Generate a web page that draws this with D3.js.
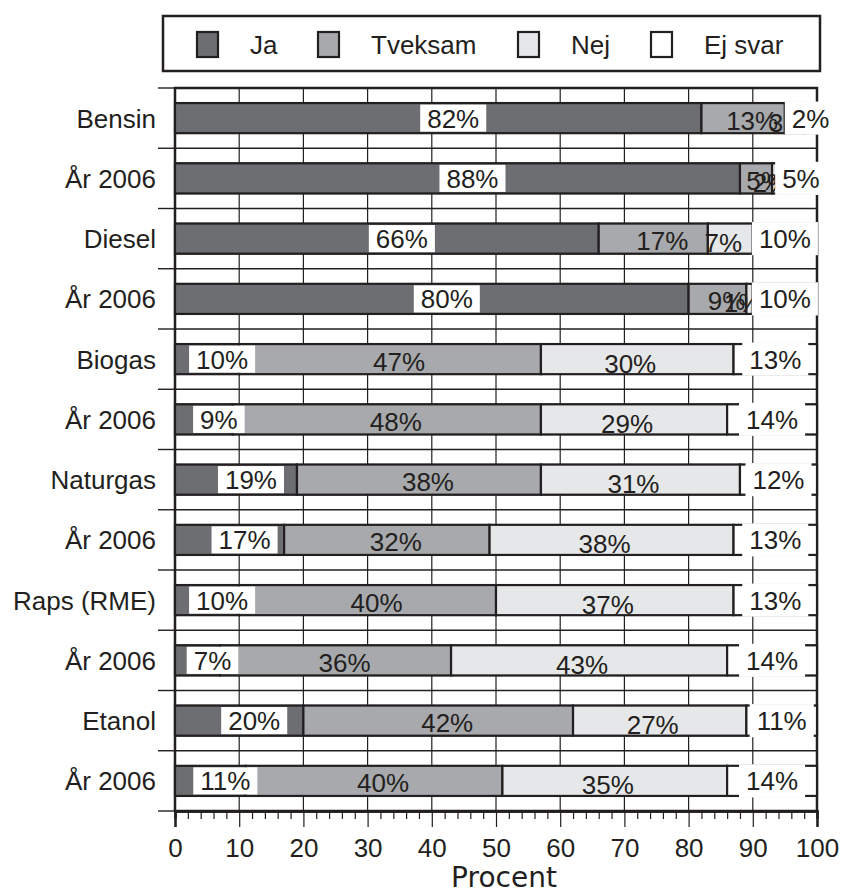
<!DOCTYPE html>
<html><head><meta charset="utf-8">
<script src="https://cdn.jsdelivr.net/npm/d3@7"></script>
<style>body{margin:0;background:#fff}</style>
</head><body><svg id="c" width="841" height="894"></svg>
<script>
const categories = ["Bensin","År 2006","Diesel","År 2006","Biogas","År 2006","Naturgas","År 2006","Raps (RME)","År 2006","Etanol","År 2006"];
const ja      = [82,88,66,80,10, 9,19,17,10, 7,20,11];
const tveksam = [13, 5,17, 9,47,48,38,32,40,36,42,40];
const nej     = [ 3, 2, 7, 1,30,29,31,38,37,43,27,35];
const ejSvar  = [ 2, 5,10,10,13,14,12,13,13,14,11,14];
const seriesNames = ["Ja","Tveksam","Nej","Ej svar"];
const xTicks = [0,10,20,30,40,50,60,70,80,90,100];
const axisTitle = "Procent";

const colors = ["#6d6e71","#a7a9ac","#e6e7e8","#ffffff"];
const ink = "#231f20";
const FONT = "'Liberation Sans', Arial, Helvetica, sans-serif";
const FS = 26;

const svg = d3.select("#c");
svg.append("rect").attr("width",841).attr("height",894).attr("fill","#fff");

const x = d3.scaleLinear().domain([0,100]).range([175,817]);
const y = d3.scaleBand().domain(d3.range(categories.length)).range([88,811]).paddingInner(0.5).paddingOuter(0.25);
const bw = y.bandwidth(), step = y.step();

const keys = ["ja","tveksam","nej","ejSvar"];
const rows = categories.map((c,i)=>({i, ja:ja[i], tveksam:tveksam[i], nej:nej[i], ejSvar:ejSvar[i]}));
const stacked = d3.stack().keys(keys)(rows);

// grid
const g = svg.append("g");
g.selectAll(".vg").data(xTicks.slice(1,-1)).join("line")
  .attr("x1",d=>x(d)).attr("x2",d=>x(d)).attr("y1",88).attr("y2",811)
  .attr("stroke",ink).attr("stroke-width",1.2);
const bounds = d3.range(categories.length+1).map(i=> i<categories.length ? y(i)-(step-bw)/2 : 811);
const hLines = [];
bounds.forEach(b=>hLines.push(b));
d3.range(categories.length).forEach(i=>{hLines.push(y(i)); hLines.push(y(i)+bw);});
g.selectAll(".hg").data(hLines).join("line")
  .attr("x1",175).attr("x2",817).attr("y1",d=>d).attr("y2",d=>d)
  .attr("stroke",ink).attr("stroke-width",1.4);

// frame
svg.append("rect").attr("x",175).attr("y",88).attr("width",642).attr("height",723)
  .attr("fill","none").attr("stroke",ink).attr("stroke-width",2.5);

// bars
stacked.forEach((s,k)=>{
  svg.append("g").selectAll("rect").data(s).join("rect")
    .attr("x",d=>x(d[0])).attr("width",d=>x(d[1])-x(d[0]))
    .attr("y",d=>y(d.data.i)).attr("height",bw)
    .attr("fill",colors[k]).attr("stroke",ink).attr("stroke-width",2.2);
});

// labels
const dxs = [15,9,-7,0], dys=[0,2,4,0];
stacked.forEach((s,k)=>{
  s.forEach(d=>{
    const v = d.data[keys[k]];
    const cx = x((d[0]+d[1])/2)+dxs[k];
    const cy = y(d.data.i)+bw/2;
    const grp = svg.append("g");
    const t = grp.append("text").attr("x",cx).attr("y",cy+9.5+dys[k])
      .attr("text-anchor","middle").attr("font-family",FONT).attr("font-size",FS)
      .attr("fill",ink).text(v+"%");
    const w = t.node().getComputedTextLength();
    if(k===0){
      grp.insert("rect","text").attr("x",cx-w/2-7).attr("width",w+14)
        .attr("y",y(d.data.i)+1.5).attr("height",bw-3).attr("fill","#fff");
    } else if(k===3){
      grp.insert("rect","text").attr("x",cx-w/2-7).attr("width",w+14)
        .attr("y",y(d.data.i)-1.5).attr("height",bw+3).attr("fill","#fff");
    }
  });
});

// left category labels and ticks
svg.selectAll(".lt").data(bounds).join("line")
  .attr("x1",158).attr("x2",175).attr("y1",d=>d).attr("y2",d=>d)
  .attr("stroke",ink).attr("stroke-width",1.4);
svg.append("g").selectAll("text").data(categories).join("text")
  .attr("x",156).attr("y",(d,i)=>y(i)+bw/2+9.5).attr("text-anchor","end")
  .attr("font-family",FONT).attr("font-size",FS).attr("fill",ink).text(d=>d);

// bottom axis
const minor = d3.range(0,101,2).filter(v=>v%10!==0);
const axMinor = svg.append("g").attr("transform","translate(0,811)")
  .call(d3.axisBottom(x).tickValues(minor).tickSize(8).tickFormat(""));
const axMajor = svg.append("g").attr("transform","translate(0,811)")
  .call(d3.axisBottom(x).tickValues(xTicks).tickSize(16).tickPadding(14).tickFormat(d3.format("d")));
[axMinor,axMajor].forEach(a=>{
  a.select(".domain").attr("stroke",ink).attr("stroke-width",2.5);
  a.selectAll(".tick line").attr("stroke",ink).attr("stroke-width",1.2);
});
axMajor.selectAll(".tick text").attr("font-family",FONT).attr("font-size",FS).attr("fill",ink).attr("dy","0.6em");
svg.append("text").attr("x",504).attr("y",887).attr("text-anchor","middle")
  .attr("font-family","'DejaVu Sans', Verdana, sans-serif").attr("font-size",28).attr("fill",ink).text(axisTitle);

// legend
svg.append("rect").attr("x",163).attr("y",16).attr("width",657).attr("height",55)
  .attr("fill","#fff").attr("stroke",ink).attr("stroke-width",2.5);
const legX = [197,318,518,651];
const lg = svg.append("g").selectAll("g").data(seriesNames).join("g");
lg.append("rect").attr("x",(d,i)=>legX[i]).attr("y",32).attr("width",21).attr("height",25)
  .attr("fill",(d,i)=>colors[i]).attr("stroke",ink).attr("stroke-width",2.2);
lg.append("text").attr("x",(d,i)=>legX[i]+53).attr("y",54)
  .attr("font-family",FONT).attr("font-size",FS).attr("fill",ink).text(d=>d);
</script></body></html>
